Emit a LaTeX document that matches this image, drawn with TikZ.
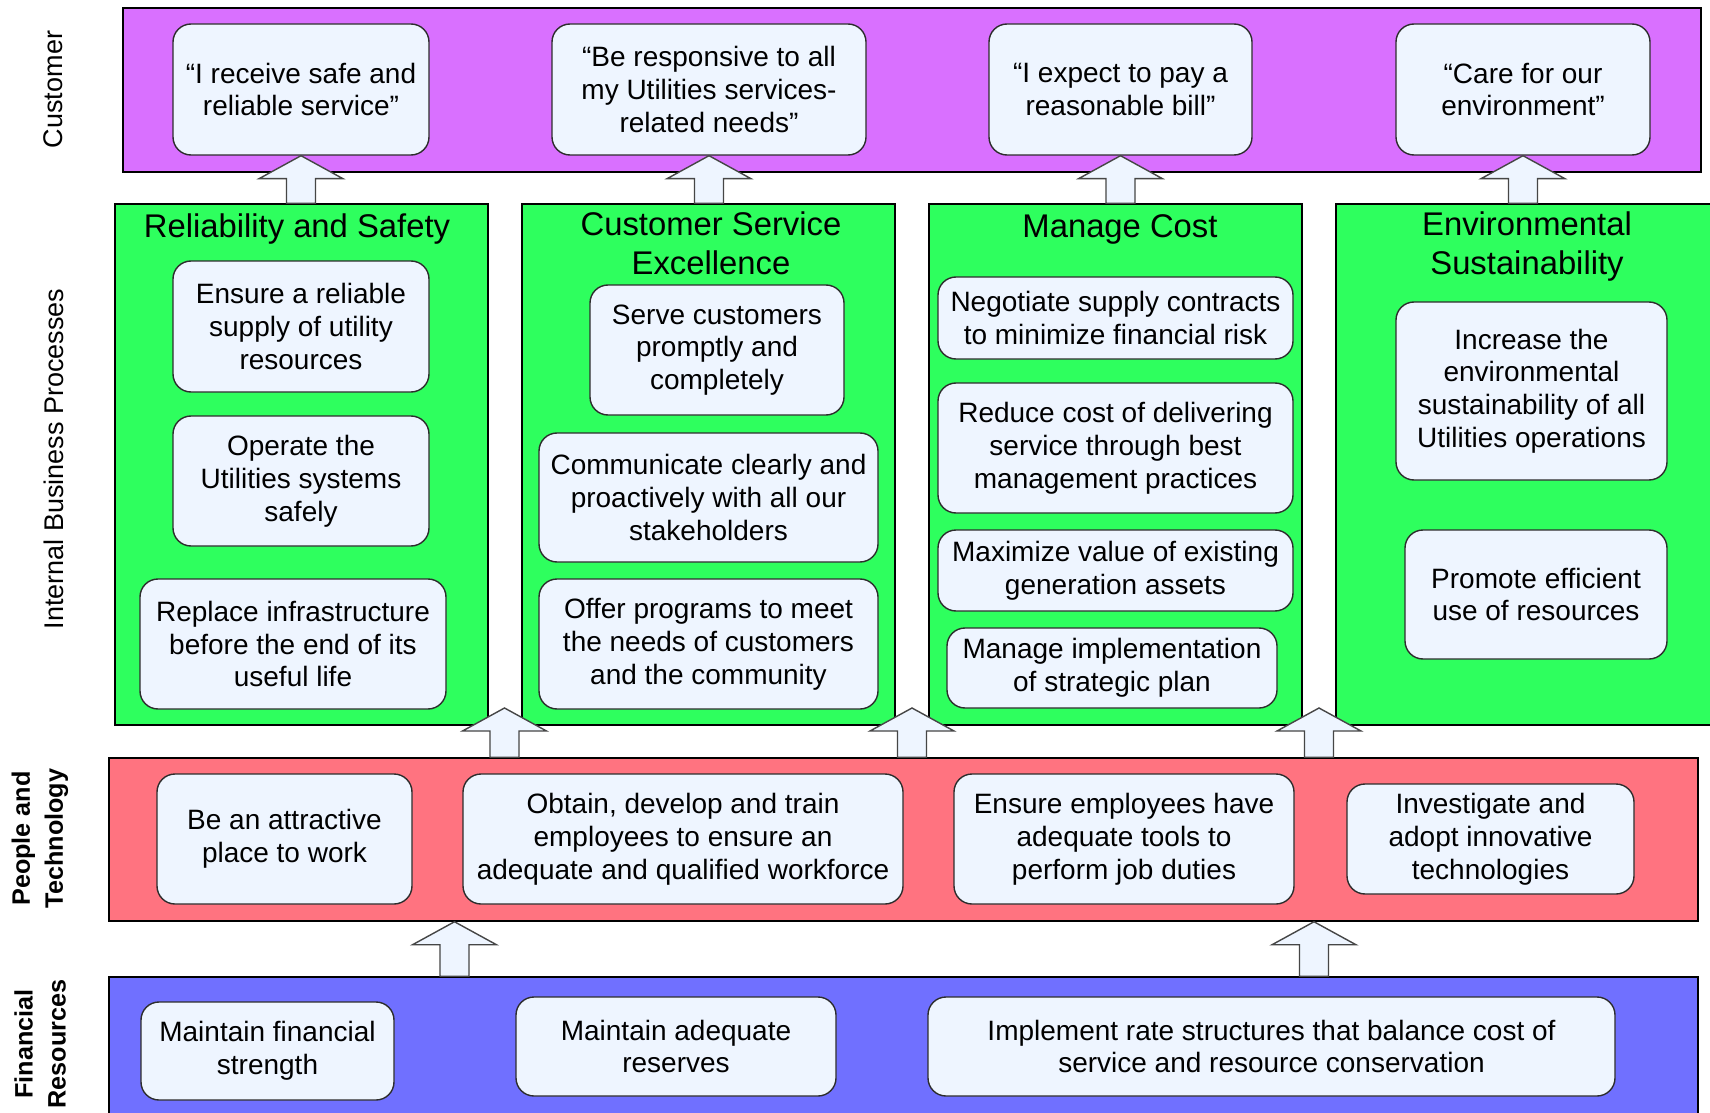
\documentclass[tikz,border=0pt]{standalone}
\usepackage{fontspec}
\setmainfont{Liberation Sans}
\usetikzlibrary{calc}
\definecolor{custpurple}{RGB}{217,112,255}
\definecolor{procgreen}{RGB}{46,255,94}
\definecolor{peoplered}{RGB}{255,115,128}
\definecolor{finblue}{RGB}{112,112,255}
\definecolor{boxfill}{RGB}{238,245,255}
\definecolor{boxline}{RGB}{45,45,45}
\definecolor{arrline}{RGB}{70,70,70}
\newcommand{\myBody}{\fontsize{14}{16.4}\selectfont}
\newcommand{\myHead}{\fontsize{16.4}{19.5}\selectfont}
\newcommand{\myRow}{\fontsize{13.5}{16.5}\selectfont}
\newcommand{\myRowB}{\fontsize{12.6}{16.5}\selectfont\bfseries}
% #1 style, #2 name, #3 x1, #4 y1, #5 x2, #6 y2 (pixels), #7 text
\newcommand{\placebox}[7]{%
  \pgfmathsetmacro{\myCX}{(#3+#5)/2}%
  \pgfmathsetmacro{\myCY}{(#4+#6)/2}%
  \pgfmathsetmacro{\myW}{(#5-#3)*0.5}%
  \pgfmathsetmacro{\myH}{(#6-#4)*0.5}%
  \node[#1, minimum width=\myW pt, minimum height=\myH pt] (#2) at (\myCX,\myCY) {#7};}
% #1 base coordinate, #2 tip coordinate
\newcommand{\blockarr}[2]{%
  \filldraw[blockarrow] let \p1=(#1), \p2=(#2) in
    (\x2-7.25pt,\y1) -- (\x2-7.25pt,\y2-11.5pt) -- (\x2-21pt,\y2-11.5pt) -- (\x2,\y2)
    -- (\x2+21pt,\y2-11.5pt) -- (\x2+7.25pt,\y2-11.5pt) -- (\x2+7.25pt,\y1) -- cycle;}
\begin{document}
\begin{tikzpicture}[x=0.5pt,y=-0.5pt,
  band/.style={draw=black, line width=0.75pt, inner sep=0pt},
  box/.style={draw=boxline, fill=boxfill, rounded corners=9pt, line width=0.7pt,
    align=center, font=\myBody, inner sep=0pt},
  blockarrow/.style={draw=arrline, fill=boxfill, line width=0.7pt, line join=miter},
  title/.style={font=\myHead, align=center, inner sep=0pt},
  rowlabel/.style={rotate=90, align=center, inner sep=0pt, font=\myRow},
  rowlabelb/.style={rotate=90, align=center, inner sep=0pt, font=\myRowB}]
\useasboundingbox (0,0) rectangle (1710,1113);
\clip (0,0) rectangle (1710,1113);
\fill[white] (0,0) rectangle (1710,1113);

% bands
\placebox{band, fill=custpurple}{cust}{123}{8}{1701}{172}{}
\placebox{band, fill=procgreen}{green1}{115}{204}{488}{725}{}
\placebox{band, fill=procgreen}{green2}{522}{204}{895}{725}{}
\placebox{band, fill=procgreen}{green3}{929}{204}{1302}{725}{}
\placebox{band, fill=procgreen}{green4}{1336}{204}{1714}{725}{}
\placebox{band, fill=peoplered}{red}{109}{758}{1698}{921}{}
\placebox{band, fill=finblue}{blue}{109}{977}{1698}{1118}{}

% row labels
\node[rowlabel] (lcust) at (53.6,89.5) {Customer};
\node[rowlabel] (lproc) at (53.6,459) {Internal Business Processes};
\node[rowlabelb] (lpeople) at (40,838.5) {People and\\Technology};
\node[rowlabelb] (lfin) at (40,1044) {Financial\\Resources};

% customer boxes
\placebox{box}{c1}{173}{24}{429}{155}{“I receive safe and\\reliable service”}
\placebox{box}{c2}{552}{24}{866}{155}{“Be responsive to all\\my Utilities services-\\related needs”}
\placebox{box}{c3}{989}{24}{1252}{155}{“I expect to pay a\\reasonable bill”}
\placebox{box}{c4}{1396}{24}{1650}{155}{“Care for our\\environment”}

% titles
\node[title, anchor=base] (t1) at (297,238) {Reliability and Safety};
\node[title] (t2) at (711,243.5) {Customer Service\\Excellence};
\node[title, anchor=base] (t3) at (1120,238) {Manage Cost};
\node[title] (t4) at (1527,247) {Environmental\\Sustainability};

% process boxes
\placebox{box}{g1a}{173}{261}{429}{392}{Ensure a reliable\\supply of utility\\resources}
\placebox{box}{g1b}{173}{416}{429}{546}{Operate the\\Utilities systems\\safely}
\placebox{box}{g1c}{140}{579}{446}{709}{Replace infrastructure\\before the end of its\\useful life}
\placebox{box}{g2a}{590}{285}{844}{415}{Serve customers\\promptly and\\completely}
\placebox{box}{g2b}{539}{433}{878}{562}{Communicate clearly and\\proactively with all our\\stakeholders}
\placebox{box}{g2c}{539}{579}{878}{709}{Offer programs to meet\\the needs of customers\\and the community}
\placebox{box}{g3a}{938}{277}{1293}{359}{Negotiate supply contracts\\to minimize financial risk}
\placebox{box}{g3b}{938}{383}{1293}{513}{Reduce cost of delivering\\service through best\\management practices}
\placebox{box}{g3c}{938}{530}{1293}{611}{Maximize value of existing\\generation assets}
\placebox{box}{g3d}{947}{628}{1277}{708}{Manage implementation\\of strategic plan}
\placebox{box}{g4a}{1396}{302}{1667}{480}{Increase the\\environmental\\sustainability of all\\Utilities operations}
\placebox{box}{g4b}{1405}{530}{1667}{659}{Promote efficient\\use of resources}

% people boxes
\placebox{box}{r1}{157}{774}{412}{904}{Be an attractive\\place to work}
\placebox{box}{r2}{463}{774}{903}{904}{Obtain, develop and train\\employees to ensure an\\adequate and qualified workforce}
\placebox{box}{r3}{954}{774}{1294}{904}{Ensure employees have\\adequate tools to\\perform job duties}
\placebox{box}{r4}{1347}{784}{1634}{894}{Investigate and\\adopt innovative\\technologies}

% financial boxes
\placebox{box}{b1}{141}{1002}{394}{1100}{Maintain financial\\strength}
\placebox{box}{b2}{516}{997}{836}{1096}{Maintain adequate\\reserves}
\placebox{box}{b3}{928}{997}{1615}{1096}{Implement rate structures that balance cost of\\service and resource conservation}

% arrows: processes -> customer
\blockarr{c1.south |- green1.north}{c1.south}
\blockarr{c2.south |- green2.north}{c2.south}
\blockarr{c3.south |- green3.north}{c3.south}
\blockarr{c4.south |- green4.north}{c4.south}
% arrows: people -> processes
\coordinate (pt1) at (504.5,708);
\coordinate (pt2) at (912,708);
\coordinate (pt3) at (1319,708);
\blockarr{pt1 |- red.north}{pt1}
\blockarr{pt2 |- red.north}{pt2}
\blockarr{pt3 |- red.north}{pt3}
% arrows: financial -> people
\coordinate (ft1) at (454.5,0);
\coordinate (ft2) at (1314,0);
\blockarr{ft1 |- blue.north}{ft1 |- red.south}
\blockarr{ft2 |- blue.north}{ft2 |- red.south}
\end{tikzpicture}
\end{document}
